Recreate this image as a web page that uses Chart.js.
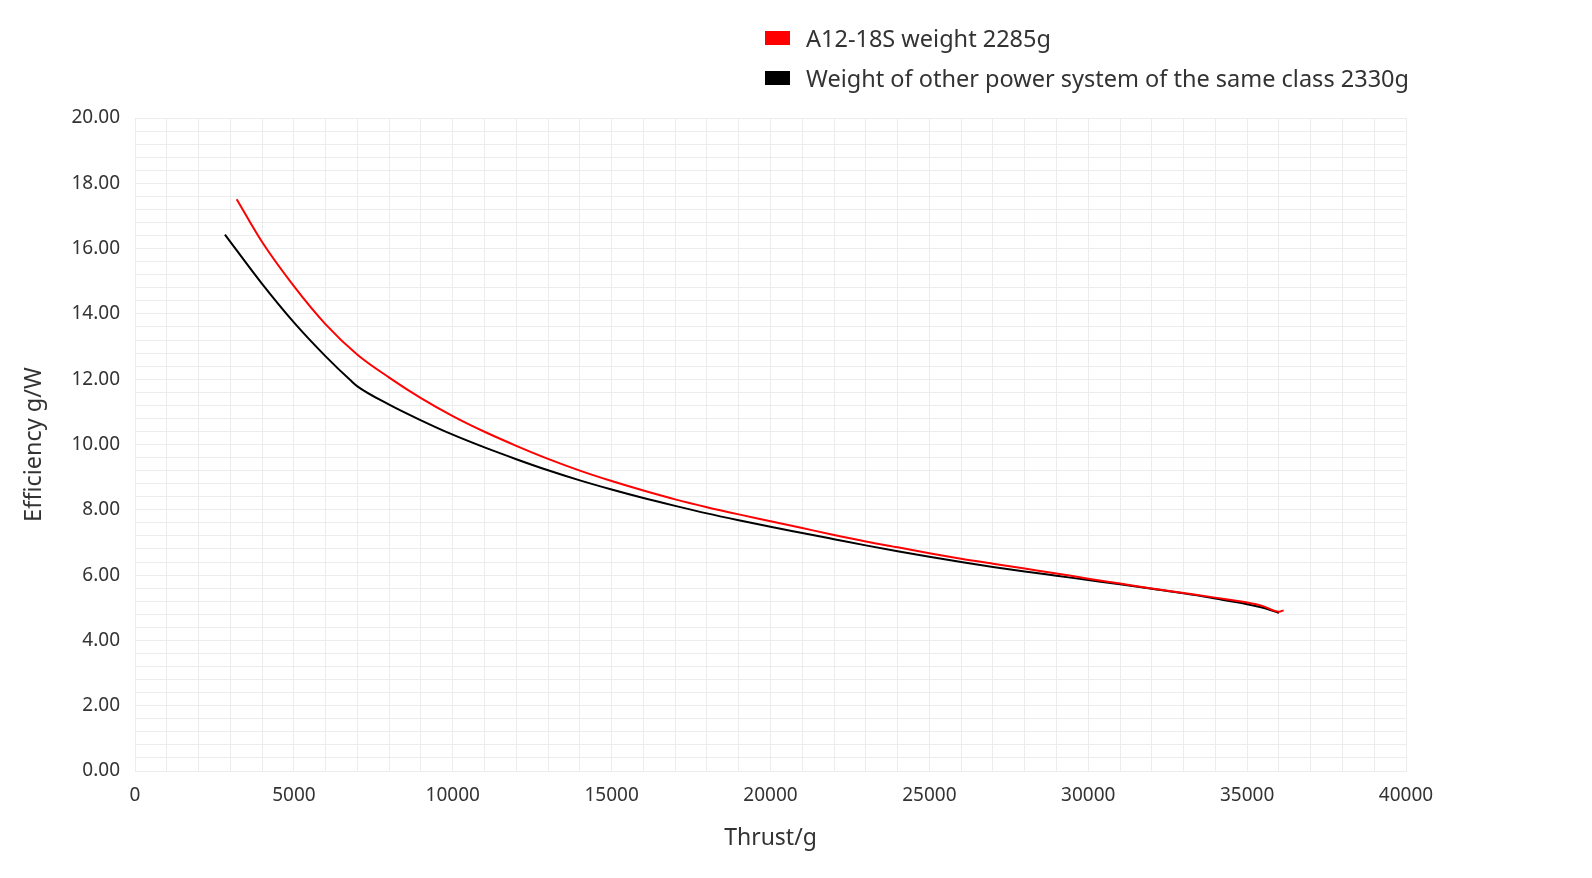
<!DOCTYPE html>
<html>
<head>
<meta charset="utf-8">
<script src="https://cdn.jsdelivr.net/npm/chart.js@4.4.1/dist/chart.umd.min.js"></script>
<style>
  html, body { margin: 0; padding: 0; background: #fff; }
  #wrap { position: relative; width: 1592px; height: 878px; }
  #legend { position: absolute; left: 765px; top: 18px; font-family: "Noto Sans", sans-serif; font-size: 23.5px; color: #333; }
  .legend-row { display: flex; align-items: center; height: 40px; white-space: nowrap; }
  .legend-box { display: inline-block; width: 25px; height: 14px; margin-right: 16px; }
</style>
</head>
<body>
<div id="wrap">
  <canvas id="EffChart" width="1592" height="878"></canvas>
  <div id="legend"></div>
</div>
<script>
// A12-18S
const redThrust = [3200, 4000, 5000, 6000, 7000, 8000, 9000, 10000, 11000, 12000, 13000, 14000, 15000, 16000, 17000, 18000, 19000, 20000, 21000, 22000, 23000, 24000, 25000, 26000, 27000, 28000, 29000, 30000, 31000, 32000, 33000, 34000, 35000, 35500, 36000, 36150];
const redEff = [17.51, 16.2, 14.85, 13.68, 12.75, 12.05, 11.42, 10.87, 10.39, 9.96, 9.56, 9.2, 8.88, 8.59, 8.32, 8.08, 7.86, 7.65, 7.44, 7.23, 7.03, 6.85, 6.67, 6.5, 6.35, 6.2, 6.05, 5.89, 5.74, 5.59, 5.45, 5.31, 5.16, 5.05, 4.88, 4.92];

// other power system of the same class
const blackThrust = [2830, 4000, 5000, 6000, 6800, 7000, 8000, 9000, 10000, 11000, 12000, 13000, 14000, 15000, 16000, 17000, 18000, 19000, 20000, 21000, 22000, 23000, 24000, 25000, 26000, 27000, 28000, 29000, 30000, 31000, 32000, 33000, 34000, 35000, 35500, 36000];
const blackEff = [16.43, 14.92, 13.74, 12.7, 11.95, 11.78, 11.22, 10.74, 10.3, 9.91, 9.55, 9.21, 8.9, 8.62, 8.36, 8.12, 7.89, 7.68, 7.48, 7.29, 7.1, 6.91, 6.73, 6.56, 6.4, 6.25, 6.11, 5.98, 5.85, 5.72, 5.58, 5.44, 5.28, 5.11, 5.0, 4.84];

const seriesNames = ["A12-18S weight 2285g", "Weight of other power system of the same class 2330g"];
const seriesColors = ["#ff0000", "#000000"];

const xMin = 0, xMax = 40000, xStep = 1000, xLabelEvery = 5000;
const yMin = 0, yMax = 20, yStep = 0.4, yLabelEvery = 2;

const gridColor = "#ececec";
const textColor = "#333333";
const fontFamily = "'Noto Sans', sans-serif";

function toPoints(xs, ys) {
  return xs.map((x, i) => ({ x: x, y: ys[i] }));
}

function makeDataset(label, points, color) {
  return {
    label: label,
    data: points,
    borderColor: color,
    backgroundColor: color,
    borderWidth: 2,
    pointRadius: 0,
    pointHoverRadius: 0,
    fill: false,
    cubicInterpolationMode: "monotone",
  };
}

const chartConfig = {
  type: "line",
  data: {
    datasets: [
      makeDataset(seriesNames[0], toPoints(redThrust, redEff), seriesColors[0]),
      makeDataset(seriesNames[1], toPoints(blackThrust, blackEff), seriesColors[1]),
    ],
  },
  options: {
    responsive: false,
    animation: false,
    layout: {
      padding: { left: 0, right: 186, top: 118, bottom: 0 },
    },
    scales: {
      x: {
        type: "linear",
        min: xMin,
        max: xMax,
        afterFit: (scale) => { scale.height = 107; },
        border: { color: gridColor },
        grid: { color: gridColor, drawTicks: false },
        ticks: {
          stepSize: xStep,
          maxTicksLimit: 100,
          autoSkip: false,
          maxRotation: 0,
          minRotation: 0,
          padding: 13,
          color: textColor,
          font: { family: fontFamily, size: 19 },
          callback: (val) => (val % xLabelEvery === 0 ? String(val) : ""),
        },
        title: {
          display: true,
          text: "Thrust/g",
          color: textColor,
          font: { family: fontFamily, size: 23 },
          padding: { top: 0, bottom: 26 },
        },
      },
      y: {
        min: yMin,
        max: yMax,
        afterFit: (scale) => { scale.width = 135; },
        border: { color: gridColor },
        grid: { color: gridColor, drawTicks: false },
        ticks: {
          stepSize: yStep,
          maxTicksLimit: 100,
          autoSkip: false,
          padding: 15,
          color: textColor,
          font: { family: fontFamily, size: 19 },
          callback: (val) => {
            const k = val / yLabelEvery;
            return Math.abs(k - Math.round(k)) < 1e-6 ? val.toFixed(2) : "";
          },
        },
        title: {
          display: true,
          text: "Efficiency g/W",
          color: textColor,
          font: { family: fontFamily, size: 23.5 },
          padding: { top: 20, bottom: 0 },
        },
      },
    },
    plugins: {
      legend: { display: false },
      tooltip: { enabled: false },
    },
  },
};

const effChart = new Chart(document.getElementById("EffChart"), chartConfig);

// html legend built from the chart's datasets
const legendEl = document.getElementById("legend");
effChart.data.datasets.forEach((ds) => {
  const row = document.createElement("div");
  row.className = "legend-row";
  const box = document.createElement("span");
  box.className = "legend-box";
  box.style.background = ds.backgroundColor;
  const txt = document.createElement("span");
  txt.textContent = ds.label;
  row.appendChild(box);
  row.appendChild(txt);
  legendEl.appendChild(row);
});
</script>
</body>
</html>
